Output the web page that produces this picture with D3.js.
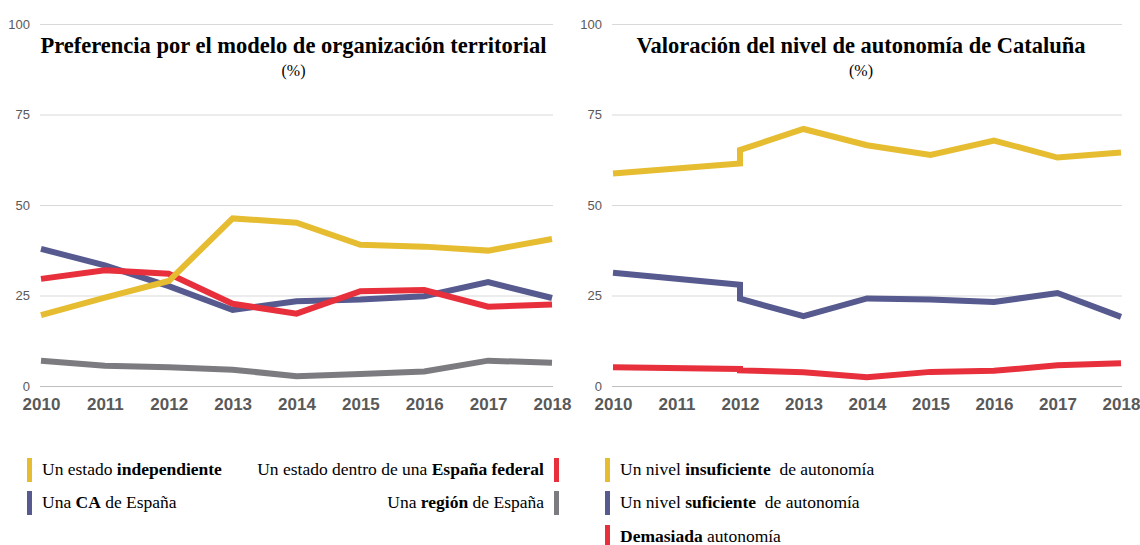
<!DOCTYPE html>
<html>
<head>
<meta charset="utf-8">
<script src="https://cdn.jsdelivr.net/npm/d3@7"></script>
<style>
    body { margin: 0; background: #fff; }
</style>
</head>
<body>
<div id="chart"></div>
<script>
// years on the x axis
var years = [2010, 2011, 2012, 2013, 2014, 2015, 2016, 2017, 2018];
var yTicks = [0, 25, 50, 75, 100];

// left panel: preferencia por el modelo territorial
var independiente = [19.6, 24.4, 29.0, 46.3, 45.1, 39.0, 38.5, 37.4, 40.6];
var caEspana      = [37.9, 33.3, 27.6, 21.0, 23.4, 23.9, 24.8, 28.7, 24.3];
var federal       = [29.6, 32.0, 31.0, 22.7, 20.0, 26.2, 26.5, 21.9, 22.5];
var region        = [7.0, 5.6, 5.2, 4.5, 2.7, 3.3, 4.0, 7.0, 6.4];

// right panel: valoracion del nivel de autonomia (two surveys in 2012)
var autoYears    = [2010, 2012, 2012, 2013, 2014, 2015, 2016, 2017, 2018];
var insuficiente = [58.7, 61.5, 65.2, 71.0, 66.5, 63.8, 67.8, 63.1, 64.5];
var suficiente   = [31.3, 28.0, 24.1, 19.3, 24.2, 23.9, 23.2, 25.7, 19.1];
var demasiada    = [5.2, 4.7, 4.3, 3.8, 2.4, 3.9, 4.2, 5.7, 6.3];

var colors = { yellow: "#E6BC31", blue: "#565A8E", red: "#E7303C", gray: "#7C7C80" };

var SERIF = "'Liberation Serif', 'DejaVu Serif', serif";
var SANS = "'Liberation Sans', Arial, sans-serif";

var svg = d3.select("#chart").append("svg")
    .attr("width", 1140)
    .attr("height", 545);

lineChart = function(_svg, _opts) {
    this.svg = _svg;
    this.opts = _opts;
    this.initVis();
}

lineChart.prototype.initVis = function() {
    var vis = this;
    var o = vis.opts;

    vis.g = vis.svg.append("g");

    vis.x = d3.scaleLinear().domain([2010, 2018]).range([o.left, o.right]);
    vis.y = d3.scaleLinear().domain([0, 100]).range([386, 24]);

    // gridlines + y labels
    var yAxis = d3.axisLeft(vis.y)
        .tickValues(yTicks)
        .tickSize(-(o.right - o.left + 2))
        .tickPadding(10);
    var gy = vis.g.append("g")
        .attr("transform", "translate(" + (o.left - 1) + ",0)")
        .call(yAxis);
    gy.select(".domain").remove();
    gy.selectAll("line").attr("stroke", function(d) { return d === 0 ? "#bfbfbf" : "#d9d9d9"; });
    gy.selectAll("text")
        .attr("font-family", SANS)
        .attr("font-size", 13)
        .attr("fill", "#595959");

    // x labels
    var xAxis = d3.axisBottom(vis.x)
        .tickValues(years)
        .tickFormat(d3.format("d"))
        .tickSize(0)
        .tickPadding(12);
    var gx = vis.g.append("g")
        .attr("transform", "translate(0,386)")
        .call(xAxis);
    gx.select(".domain").remove();
    gx.selectAll("text")
        .attr("font-family", SANS)
        .attr("font-size", 17)
        .attr("font-weight", "bold")
        .attr("fill", "#595959");

    // title
    var cx = (o.left + o.right) / 2 + o.titleShift;
    vis.g.append("text")
        .attr("x", cx).attr("y", 53)
        .attr("text-anchor", "middle")
        .attr("font-family", SERIF)
        .attr("font-size", 22.5)
        .attr("font-weight", "bold")
        .text(o.title);
    vis.g.append("text")
        .attr("x", cx).attr("y", 76)
        .attr("text-anchor", "middle")
        .attr("font-family", SERIF)
        .attr("font-size", 16)
        .text("(%)");

    vis.updateVis();
}

lineChart.prototype.updateVis = function() {
    var vis = this;

    var line = d3.line()
        .x(function(d) { return vis.x(d[0]); })
        .y(function(d) { return vis.y(d[1]); });

    vis.opts.series.forEach(function(s) {
        var pts = s.values.map(function(v, i) { return [s.years[i], v]; });
        vis.g.append("path")
            .datum(pts)
            .attr("fill", "none")
            .attr("stroke", s.color)
            .attr("stroke-width", 6)
            .attr("stroke-linejoin", "miter")
            .attr("d", line);
    });
}

new lineChart(svg, {
    left: 41, right: 552, titleShift: -3,
    title: "Preferencia por el modelo de organización territorial",
    series: [
        { years: years, values: region, color: colors.gray },
        { years: years, values: caEspana, color: colors.blue },
        { years: years, values: federal, color: colors.red },
        { years: years, values: independiente, color: colors.yellow }
    ]
});

new lineChart(svg, {
    left: 613, right: 1121, titleShift: -6,
    title: "Valoración del nivel de autonomía de Cataluña",
    series: [
        { years: autoYears, values: demasiada, color: colors.red },
        { years: autoYears, values: suficiente, color: colors.blue },
        { years: autoYears, values: insuficiente, color: colors.yellow }
    ]
});

// legends: text parts, [string, bold]
var legendItems = [
    { parts: [["Un estado ", false], ["independiente", true]], color: colors.yellow, x: 27, y: 470, side: "left" },
    { parts: [["Una ", false], ["CA", true], [" de España", false]], color: colors.blue, x: 27, y: 503, side: "left" },
    { parts: [["Un estado dentro de una ", false], ["España federal", true]], color: colors.red, x: 559, y: 470, side: "right" },
    { parts: [["Una ", false], ["región", true], [" de España", false]], color: colors.gray, x: 559, y: 503, side: "right" },
    { parts: [["Un nivel ", false], ["insuficiente", true], ["  de autonomía", false]], color: colors.yellow, x: 605, y: 470, side: "left" },
    { parts: [["Un nivel ", false], ["suficiente", true], ["  de autonomía", false]], color: colors.blue, x: 605, y: 503, side: "left" },
    { parts: [["Demasiada", true], [" autonomía", false]], color: colors.red, x: 605, y: 537, side: "left" }
];

var legend = svg.append("g");
legendItems.forEach(function(d) {
    var sw = 5;
    var swX = d.side === "left" ? d.x : d.x - sw;
    legend.append("rect")
        .attr("x", swX).attr("y", d.y - 12)
        .attr("width", sw).attr("height", 24)
        .attr("fill", d.color);
    var t = legend.append("text")
        .attr("x", d.side === "left" ? d.x + 15 : d.x - 15)
        .attr("y", d.y + 5)
        .attr("text-anchor", d.side === "left" ? "start" : "end")
        .attr("font-family", SERIF)
        .attr("font-size", 17.5)
        .attr("fill", "#000")
        .style("white-space", "pre");
    d.parts.forEach(function(p) {
        t.append("tspan")
            .attr("font-weight", p[1] ? "bold" : "normal")
            .text(p[0]);
    });
});
</script>
</body>
</html>
